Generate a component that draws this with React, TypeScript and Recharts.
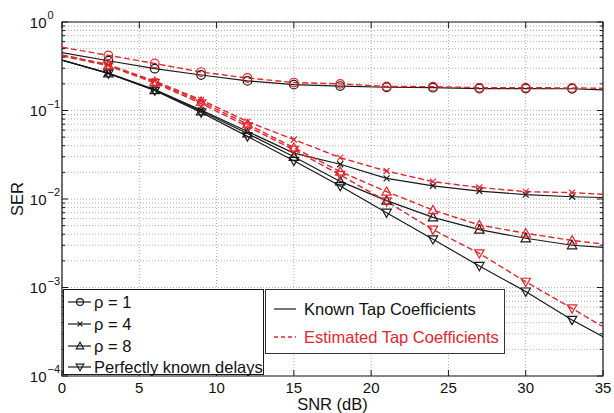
import React from "react";
import {
  LineChart,
  Line,
  XAxis,
  YAxis,
  CartesianGrid,
  ReferenceLine,
  ReferenceArea,
} from "recharts";

// SNR points (markers drawn at 3..33 only, the ends just carry the line)
const snr = [0, 3, 6, 9, 12, 15, 18, 21, 24, 27, 30, 33, 35];

// known tap coefficients (black, solid)
const rho1Known = [0.45, 0.365, 0.297, 0.252, 0.216, 0.196, 0.189, 0.183, 0.181, 0.177, 0.177, 0.176, 0.171];
const rho4Known = [0.372, 0.265, 0.172, 0.101, 0.058, 0.033, 0.0247, 0.0171, 0.0141, 0.0123, 0.0112, 0.0106, 0.0104];
const rho8Known = [0.371, 0.263, 0.17, 0.098, 0.055, 0.03, 0.0158, 0.0096, 0.0062, 0.0045, 0.0036, 0.003, 0.00284];
const pkdKnown = [0.37, 0.262, 0.168, 0.095, 0.051, 0.027, 0.014, 0.007, 0.0035, 0.00175, 0.0009, 0.00043, 0.000278];

// estimated tap coefficients (red, dashed)
const rho1Est = [0.518, 0.42, 0.34, 0.272, 0.233, 0.207, 0.2, 0.187, 0.186, 0.181, 0.181, 0.18, 0.178];
const rho4Est = [0.425, 0.33, 0.215, 0.132, 0.075, 0.047, 0.0293, 0.0207, 0.0157, 0.0135, 0.0121, 0.0118, 0.0113];
const rho8Est = [0.42, 0.325, 0.21, 0.126, 0.07, 0.038, 0.0204, 0.0121, 0.0075, 0.00508, 0.0041, 0.0034, 0.0031];
const pkdEst = [0.415, 0.32, 0.205, 0.12, 0.066, 0.036, 0.0187, 0.0094, 0.0045, 0.00243, 0.00116, 0.00058, 0.00036];

const xTicks = [0, 5, 10, 15, 20, 25, 30, 35];
const decades = [-4, -3, -2, -1];
const yTicks: number[] = [];
decades.forEach((e) => {
  for (let m = 1; m <= 9; m++) yTicks.push(Number((m * Math.pow(10, e)).toPrecision(3)));
});
yTicks.push(1);

const BLACK = "#1a1a1a";
const RED = "#e5262b";

const data = snr.map((s, i) => ({
  snr: s,
  rho1Known: rho1Known[i],
  rho4Known: rho4Known[i],
  rho8Known: rho8Known[i],
  pkdKnown: pkdKnown[i],
  rho1Est: rho1Est[i],
  rho4Est: rho4Est[i],
  rho8Est: rho8Est[i],
  pkdEst: pkdEst[i],
}));

type Shape = "circle" | "x" | "up" | "down";

function Marker({ cx, cy, shape, color, s = 1 }: { cx: number; cy: number; shape: Shape; color: string; s?: number }) {
  const sw = 1.2;
  if (shape === "circle") return <circle cx={cx} cy={cy} r={4.3 * s} fill="none" stroke={color} strokeWidth={sw} />;
  if (shape === "x") {
    const d = 3 * s;
    return (
      <g stroke={color} strokeWidth={sw}>
        <line x1={cx - d} y1={cy - d} x2={cx + d} y2={cy + d} />
        <line x1={cx - d} y1={cy + d} x2={cx + d} y2={cy - d} />
      </g>
    );
  }
  const h = 4.7 * s;
  const w = 4.7 * s;
  const pts =
    shape === "up"
      ? `${cx},${cy - h} ${cx - w},${cy + h * 0.75} ${cx + w},${cy + h * 0.75}`
      : `${cx},${cy + h} ${cx - w},${cy - h * 0.75} ${cx + w},${cy - h * 0.75}`;
  return <polygon points={pts} fill="none" stroke={color} strokeWidth={sw} />;
}

const dotFor = (shape: Shape, color: string) => (props: any) => {
  const { cx, cy, payload, index, dataKey } = props;
  const k = `${dataKey}-${index}`;
  if (payload.snr === 0 || payload.snr === 35 || cx == null || cy == null) return <g key={k} />;
  return (
    <g key={k}>
      <Marker cx={cx} cy={cy} shape={shape} color={color} />
    </g>
  );
};

const font = "'Liberation Sans', Arial, Helvetica, sans-serif";

const YTick = (props: any) => {
  const { x, y, payload } = props;
  const lg = Math.log10(payload.value);
  const e = Math.round(lg);
  if (Math.abs(lg - e) > 1e-6) return <g />;
  const exp = e === 0 ? "0" : `\u2212${Math.abs(e)}`;
  return (
    <g fontFamily={font} fill="#111">
      <text x={x} y={y + 5.5} fontSize={15} textAnchor="end">
        10
      </text>
      <text x={x + 1} y={y - 3} fontSize={11} textAnchor="start">
        {exp}
      </text>
    </g>
  );
};

// inward tick marks, in data units
const xMajor = 0.39;
const xMinor = 0.2;
const yMajorF = Math.pow(10, 6 / 88.5);

const series: { key: string; shape: Shape; color: string; dashed: boolean }[] = [
  { key: "rho1Known", shape: "circle", color: BLACK, dashed: false },
  { key: "rho4Known", shape: "x", color: BLACK, dashed: false },
  { key: "rho8Known", shape: "up", color: BLACK, dashed: false },
  { key: "pkdKnown", shape: "down", color: BLACK, dashed: false },
  { key: "rho1Est", shape: "circle", color: RED, dashed: true },
  { key: "rho4Est", shape: "x", color: RED, dashed: true },
  { key: "rho8Est", shape: "up", color: RED, dashed: true },
  { key: "pkdEst", shape: "down", color: RED, dashed: true },
];

const markerLegend: { label: string; shape: Shape }[] = [
  { label: "\u03c1 = 1", shape: "circle" },
  { label: "\u03c1 = 4", shape: "x" },
  { label: "\u03c1 = 8", shape: "up" },
  { label: "Perfectly known delays", shape: "down" },
];

export default function App() {
  return (
    <div style={{ position: "relative", width: 614, height: 413, background: "#fff", fontFamily: font }}>
      <style>{`body{margin:0}`}</style>
      <LineChart width={614} height={413} data={data} margin={{ top: 22, right: 11, bottom: 0, left: 0 }}>
        <CartesianGrid stroke="#9a9a9a" strokeDasharray="1 2" strokeWidth={0.8} />
        <XAxis
          dataKey="snr"
          type="number"
          domain={[0, 35]}
          ticks={xTicks}
          allowDataOverflow
          height={37}
          tickLine={false}
          tickSize={0}
          tickMargin={6}
          axisLine={false}
          tick={{ fontSize: 15, fill: "#111", fontFamily: font }}
          label={(p: any) => {
            const vb = p.viewBox;
            const cx = vb.x + vb.width / 2;
            return (
              <text x={cx} y={404} textAnchor="middle" dominantBaseline="central" fontSize={16.5} fill="#111" fontFamily={font}>
                SNR (dB)
              </text>
            );
          }}
        />
        <YAxis
          type="number"
          scale="log"
          domain={[1e-4, 1]}
          ticks={yTicks}
          allowDataOverflow
          interval={0}
          width={62}
          tickLine={false}
          tickSize={0}
          tickMargin={15.5}
          axisLine={false}
          tick={<YTick />}
          label={(p: any) => {
            const vb = p.viewBox;
            const cx = 16.5;
            const cy = vb.y + vb.height / 2;
            return (
              <text x={cx} y={cy} transform={`rotate(-90 ${cx} ${cy})`} textAnchor="middle" dominantBaseline="central" fontSize={16.5} fill="#111" fontFamily={font}>
                SER
              </text>
            );
          }}
        />
        {series.map((s) => (
          <Line
            key={s.key}
            dataKey={s.key}
            stroke={s.color}
            strokeWidth={s.dashed ? 1.4 : 1.2}
            strokeDasharray={s.dashed ? "6 3" : undefined}
            dot={dotFor(s.shape, s.color)}
            activeDot={false}
            isAnimationActive={false}
            type="linear"
          />
        ))}
        {yTicks.map((v) => {
          const major = Math.abs(Math.log10(v) - Math.round(Math.log10(v))) < 1e-6;
          const len = major ? xMajor : xMinor;
          return [
            <ReferenceLine key={`yl${v}`} segment={[{ x: 0, y: v }, { x: len, y: v }]} stroke={BLACK} strokeWidth={1} />,
            <ReferenceLine key={`yr${v}`} segment={[{ x: 35 - len, y: v }, { x: 35, y: v }]} stroke={BLACK} strokeWidth={1} />,
          ];
        })}
        {xTicks.map((v) => [
          <ReferenceLine key={`xb${v}`} segment={[{ x: v, y: 1e-4 }, { x: v, y: 1e-4 * yMajorF }]} stroke={BLACK} strokeWidth={1} />,
          <ReferenceLine key={`xt${v}`} segment={[{ x: v, y: 1 }, { x: v, y: 1 / yMajorF }]} stroke={BLACK} strokeWidth={1} />,
        ])}
        <ReferenceArea x1={0} x2={35} y1={1e-4} y2={1} fill="none" fillOpacity={0} stroke={BLACK} strokeWidth={1.2} />
      </LineChart>

      <div
        style={{
          position: "absolute",
          left: 63,
          top: 289,
          width: 201,
          height: 86,
          background: "#fff",
          border: `1px solid ${BLACK}`,
          boxSizing: "border-box",
        }}
      >
        {markerLegend.map((m, i) => (
          <div key={m.label} style={{ position: "absolute", left: 0, top: 1 + i * 21.8, height: 22, display: "flex", alignItems: "center" }}>
            <svg width={30} height={22} style={{ display: "block" }}>
              <line x1={4} y1={11} x2={27} y2={11} stroke={BLACK} strokeWidth={1.2} />
              <Marker cx={16} cy={11} shape={m.shape} color={BLACK} s={0.8} />
            </svg>
            <span style={{ fontSize: 16.5, color: "#111", whiteSpace: "nowrap", lineHeight: "22px" }}>{m.label}</span>
          </div>
        ))}
      </div>

      <div
        style={{
          position: "absolute",
          left: 265,
          top: 289,
          width: 240,
          height: 65,
          background: "#fff",
          border: `1px solid #333`,
          boxSizing: "border-box",
        }}
      >
        <div style={{ position: "absolute", left: 0, top: 8, height: 22, display: "flex", alignItems: "center" }}>
          <svg width={38} height={22} style={{ display: "block" }}>
            <line x1={8} y1={11} x2={30} y2={11} stroke={BLACK} strokeWidth={1.2} />
          </svg>
          <span style={{ fontSize: 16.5, color: "#111", whiteSpace: "nowrap" }}>Known Tap Coefficients</span>
        </div>
        <div style={{ position: "absolute", left: 0, top: 36, height: 22, display: "flex", alignItems: "center" }}>
          <svg width={38} height={22} style={{ display: "block" }}>
            <line x1={8} y1={11} x2={30} y2={11} stroke={RED} strokeWidth={1.3} strokeDasharray="4 3" />
          </svg>
          <span style={{ fontSize: 16.5, color: RED, whiteSpace: "nowrap" }}>Estimated Tap Coefficients</span>
        </div>
      </div>
    </div>
  );
}
